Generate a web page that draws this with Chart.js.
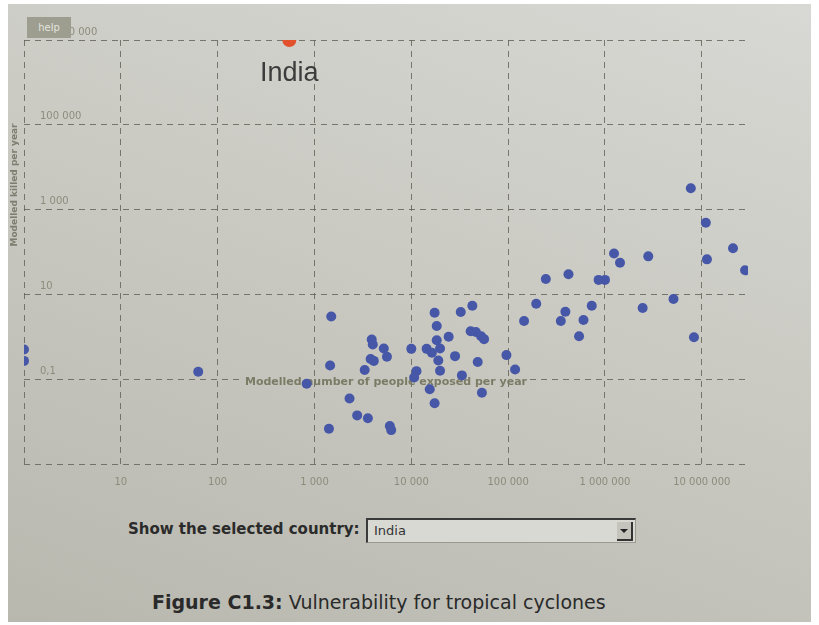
<!DOCTYPE html>
<html>
<head>
<meta charset="utf-8">
<title>Vulnerability for tropical cyclones</title>
<script src="https://cdn.jsdelivr.net/npm/chart.js@4.4.1/dist/chart.umd.min.js"></script>
<style>
  html, body { margin: 0; padding: 0; background: #ffffff; }
  #paper {
    position: absolute; left: 8px; top: 4px; width: 803px; height: 618px;
    background: linear-gradient(200deg, #d8d8d4 0%, #cacac3 45%, #b8b8af 100%);
  }
  #chartVuln { position: absolute; left: 0; top: 0; }
  #help {
    position: absolute; left: 27px; top: 17px; width: 44px; height: 21px;
    background: #9d9d90; color: #e4e4dc; font: 10px "DejaVu Sans", sans-serif;
    line-height: 21px; text-align: center;
  }
  #pick {
    position: absolute; left: 128px; top: 520px;
    font: bold 15px "DejaVu Sans", sans-serif; color: #2b2b2b;
  }
  #select {
    position: absolute; left: 366px; top: 518px; width: 267px; height: 22px;
    background: #d9d9d3; border-top: 2px solid #3a3a3a; border-left: 2px solid #3a3a3a;
    border-right: 1px solid #9a9a92; border-bottom: 1px solid #9a9a92;
  }
  #select span {
    position: absolute; left: 6px; top: 3px;
    font: 13px "DejaVu Sans", sans-serif; color: #333;
  }
  #arrow {
    position: absolute; right: 2px; top: 2px; width: 14px; height: 17px;
    background: #c4c4bc; border-right: 2px solid #333; border-bottom: 2px solid #333;
  }
  #arrow:after {
    content: ""; position: absolute; left: 3px; top: 7px;
    border-left: 4px solid transparent; border-right: 4px solid transparent;
    border-top: 4px solid #222;
  }
  #caption {
    position: absolute; left: 152px; top: 591px;
    font: 19px "DejaVu Sans", sans-serif; color: #2a2a2a;
  }
</style>
</head>
<body>
<div id="paper"></div>
<canvas id="chartVuln" width="819" height="500"></canvas>
<div id="help">help</div>
<div id="pick">Show the selected country:</div>
<div id="select"><span>India</span><div id="arrow"></div></div>
<div id="caption"><b>Figure C1.3:</b> Vulnerability for tropical cyclones</div>

<script>
// modelled number of people exposed per year (x) and modelled killed per year (y)
const exposed = [1, 1, 63, 830, 1490, 1450, 1410, 2300, 2760, 3560,
  3900, 4000, 5200, 5600, 3800, 4100, 3300, 6000, 6200, 10000,
  11300, 10700, 17400, 32400, 42700, 18300, 18300, 24300, 41000, 46400,
  52600, 56400, 14400, 16300, 19800, 28300, 19000, 48500, 96000, 19800,
  33300, 118000, 15500, 53600, 17400, 146000, 1240000, 1430000, 2800000, 245000,
  420000, 860000, 1000000, 195000, 730000, 390000, 350000, 600000, 540000, 2450000,
  7700000, 11000000, 21000000, 11300000, 28000000, 5100000, 8300000];
const killed = [0.5, 0.27, 0.15, 0.078, 3.0, 0.21, 0.0068, 0.035, 0.014, 0.012,
  0.86, 0.66, 0.53, 0.34, 0.30, 0.27, 0.165, 0.0079, 0.0063, 0.52,
  0.155, 0.11, 3.7, 3.85, 5.4, 1.8, 0.83, 1.0, 1.35, 1.3,
  1.03, 0.88, 0.52, 0.42, 0.53, 0.35, 0.275, 0.255, 0.37, 0.158,
  0.123, 0.17, 0.058, 0.048, 0.027, 2.35, 92, 56, 79, 23,
  30, 22, 22, 6.0, 5.4, 3.9, 2.36, 2.5, 1.03, 4.8,
  3200, 490, 123, 67, 37, 7.8, 0.98];

const selectedName = 'India';
const selectedExposed = [550];
const selectedKilled = [10000000];

const xTickValues = [1, 10, 100, 1000, 10000, 100000, 1000000, 10000000];
const xTickLabels = ['', '10', '100', '1 000', '10 000', '100 000', '1 000 000', '10 000 000'];
const yTickValues = [0.001, 0.1, 10, 1000, 100000, 10000000];
const yTickLabels = ['', '0,1', '10', '1 000', '100 000', '10 000 000'];

const xTitle = 'Modelled number of people exposed per year';
const yTitle = 'Modelled killed per year';

const gridColor = 'rgba(95, 95, 85, 0.8)';
const tickColor = '#8c8c7c';

const annotate = {
  id: 'annotate',
  beforeDatasetsDraw(chart) {
    const {ctx, chartArea, scales} = chart;
    const yLine = scales.y.getPixelForValue(0.1);
    const cx = (chartArea.left + chartArea.right) / 2;
    ctx.save();
    ctx.font = 'bold 11px "DejaVu Sans"';
    const w = ctx.measureText(xTitle).width;
    ctx.clearRect(cx - w / 2 - 2, yLine - 2, w + 4, 4);
    ctx.fillStyle = '#7b7b66';
    ctx.textAlign = 'center';
    ctx.textBaseline = 'middle';
    ctx.fillText(xTitle, cx, yLine + 3);
    ctx.restore();
  },
  afterDatasetsDraw(chart) {
    const {ctx, chartArea} = chart;
    const pt = chart.getDatasetMeta(0).data[0];
    ctx.save();
    ctx.font = '27px "Liberation Sans"';
    ctx.fillStyle = '#3c3c3c';
    ctx.textAlign = 'center';
    ctx.textBaseline = 'middle';
    ctx.fillText(selectedName, pt.x, pt.y + 34);

    ctx.translate(chartArea.left - 9, chartArea.top + 145);
    ctx.rotate(-Math.PI / 2);
    ctx.font = 'bold 9px "DejaVu Sans"';
    ctx.fillStyle = '#7e7e70';
    ctx.fillText(yTitle, 0, 0);
    ctx.restore();
  }
};

const ctx = document.getElementById('chartVuln');
const chartVuln = new Chart(ctx, {
  type: 'scatter',
  data: {
    datasets: [{
      label: selectedName,
      data: selectedExposed.map((x, i) => ({x: x, y: selectedKilled[i]})),
      backgroundColor: '#e2502c',
      pointRadius: 7,
      pointBorderWidth: 0,
      clip: 0
    }, {
      label: 'Countries',
      data: exposed.map((x, i) => ({x: x, y: killed[i]})),
      backgroundColor: '#4657a8',
      pointRadius: 5,
      pointBorderWidth: 0,
      clip: 0
    }]
  },
  options: {
    responsive: false,
    animation: false,
    layout: {
      padding: {left: 24, right: 71, top: 40, bottom: 0}
    },
    scales: {
      x: {
        type: 'logarithmic',
        min: 1,
        max: 30000000,
        afterBuildTicks: (scale) => {
          scale.ticks = xTickValues.map(v => ({value: v}));
        },
        ticks: {
          autoSkip: false,
          maxRotation: 0,
          padding: 12,
          color: tickColor,
          font: {family: 'DejaVu Sans', size: 10},
          callback: (v, i) => xTickLabels[i]
        },
        grid: {
          color: gridColor,
          drawTicks: false
        },
        border: {
          display: false,
          dash: [6, 5]
        }
      },
      y: {
        type: 'logarithmic',
        min: 0.001,
        max: 10000000,
        afterBuildTicks: (scale) => {
          scale.ticks = yTickValues.map(v => ({value: v}));
        },
        afterFit: (scale) => {
          scale.width = 0;
        },
        ticks: {
          autoSkip: false,
          mirror: true,
          padding: 16,
          labelOffset: -8,
          color: tickColor,
          font: {family: 'DejaVu Sans', size: 10},
          callback: (v, i) => yTickLabels[i]
        },
        grid: {
          color: gridColor,
          drawTicks: false
        },
        border: {
          display: false,
          dash: [6, 5]
        }
      }
    },
    plugins: {
      legend: {display: false},
      tooltip: {enabled: false}
    }
  },
  plugins: [annotate]
});
</script>
</body>
</html>
